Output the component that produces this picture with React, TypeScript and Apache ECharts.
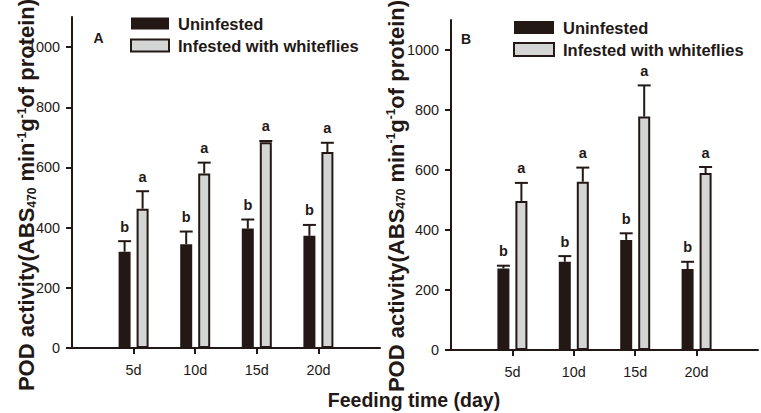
import React, { useEffect, useRef } from "react";
import * as echarts from "echarts";

const categories = ["5d", "10d", "15d", "20d"];
const axisCategories = ["", ...categories, ""];

const seriesNames = ["Uninfested", "Infested with whiteflies"];

// Panel A
const aUninfested = [320, 345, 397, 373];
const aUninfestedErr = [35, 42, 30, 36];
const aUninfestedSig = ["b", "b", "b", "b"];
const aInfested = [463, 580, 684, 651];
const aInfestedErr = [58, 36, 4, 31];
const aInfestedSig = ["a", "a", "a", "a"];

// Panel B
const bUninfested = [272, 294, 367, 270];
const bUninfestedErr = [9, 19, 22, 24];
const bUninfestedSig = ["b", "b", "b", "b"];
const bInfested = [497, 561, 778, 590];
const bInfestedErr = [60, 47, 104, 20];
const bInfestedSig = ["a", "a", "a", "a"];

const yTicks = [0, 200, 400, 600, 800, 1000];

const INK = "#231815";
const GRAY = "#d4d6d6";
const FONT = "'Liberation Sans', Arial, Helvetica, sans-serif";
const BAR_W = 12;
const OFFSET = 9;

function barData(vals: number[]) {
  return ["-", ...vals, "-"];
}

function errSeries(
  name: string,
  gridIdx: number,
  vals: number[],
  errs: number[],
  sig: string[],
  offset: number
) {
  return {
    type: "custom",
    name: name + "-err",
    xAxisIndex: gridIdx,
    yAxisIndex: gridIdx,
    z: 5,
    data: vals.map((v, i) => [i + 1, v, errs[i]]),
    encode: { x: 0, y: 1 },
    renderItem: (params: any, api: any) => {
      const i = api.value(0);
      const v = api.value(1);
      const e = api.value(2);
      const base = api.coord([i, v]);
      const top = api.coord([i, v + e]);
      const x = base[0] + offset;
      return {
        type: "group",
        children: [
          {
            type: "line",
            shape: { x1: x, y1: base[1], x2: x, y2: top[1] },
            style: { stroke: INK, lineWidth: 2 },
          },
          {
            type: "line",
            shape: { x1: x - 6.5, y1: top[1], x2: x + 6.5, y2: top[1] },
            style: { stroke: INK, lineWidth: 2 },
          },
          {
            type: "text",
            x: x,
            y: top[1] - 7,
            style: {
              text: sig[params.dataIndex],
              align: "center",
              verticalAlign: "bottom",
              fontFamily: FONT,
              fontWeight: "bold",
              fontSize: 14.5,
              fill: INK,
            },
          },
        ],
      };
    },
  };
}

function xAxis(gridIndex: number) {
  return {
    type: "category",
    gridIndex,
    data: axisCategories,
    boundaryGap: false,
    axisLine: { show: true, lineStyle: { color: INK, width: 2 } },
    axisTick: {
      show: true,
      interval: (idx: number) => idx > 0 && idx < axisCategories.length - 1,
      length: 6,
      lineStyle: { color: INK, width: 2 },
    },
    axisLabel: {
      interval: 0,
      fontSize: 14.4,
      fontFamily: FONT,
      color: INK,
      margin: 15,
    },
    splitLine: { show: false },
  };
}

function yAxis(gridIndex: number) {
  return {
    type: "value",
    gridIndex,
    min: 0,
    max: 1100,
    interval: 200,
    axisLine: { show: true, lineStyle: { color: INK, width: 2 } },
    axisTick: {
      show: true,
      length: 6,
      customValues: yTicks,
      lineStyle: { color: INK, width: 2 },
    },
    axisLabel: {
      customValues: yTicks,
      formatter: (v: number) => String(v),
      fontSize: 14.4,
      fontFamily: FONT,
      color: INK,
      margin: 12,
    },
    splitLine: { show: false },
  };
}

function yTitle(x: number, y: number) {
  return {
    type: "text",
    x,
    y,
    rotation: Math.PI / 2,
    style: {
      text: "{m|POD activity(ABS}{sub|470}{m| min}{sup|-1}{m|g}{sup|-1}{m|of protein)}",
      align: "center",
      verticalAlign: "middle",
      fill: INK,
      rich: {
        m: { fontSize: 22, fontWeight: "bold", fontFamily: FONT, fill: INK, lineHeight: 22 },
        sub: { fontSize: 12, fontWeight: "bold", fontFamily: FONT, fill: INK, verticalAlign: "bottom", lineHeight: 11 },
        sup: { fontSize: 12, fontWeight: "bold", fontFamily: FONT, fill: INK, verticalAlign: "top", lineHeight: 15 },
      },
    },
  };
}

function legend(left: number, top: number, w: number, h: number) {
  return {
    left,
    top,
    orient: "vertical",
    padding: 0,
    itemWidth: w,
    itemHeight: h,
    itemGap: 5,
    selectedMode: false,
    icon: "rect",
    data: [
      { name: seriesNames[0], itemStyle: { color: INK, borderWidth: 0 } },
      { name: seriesNames[1], itemStyle: { color: GRAY, borderColor: INK, borderWidth: 2 } },
    ],
    textStyle: {
      fontSize: 16.5,
      fontWeight: "bold",
      fontFamily: FONT,
      color: INK,
      lineHeight: 16,
      padding: [0, 0, 0, 4],
    },
  };
}

export default function App() {
  const ref = useRef<HTMLDivElement>(null);
  useEffect(() => {
    if (!ref.current) return;
    const chart = echarts.init(ref.current, null, { renderer: "svg" });
    const option: any = {
      animation: false,
      backgroundColor: "#ffffff",
      grid: [
        { left: 72, top: 17, width: 308, height: 331 },
        { left: 451, top: 20, width: 309, height: 330 },
      ],
      xAxis: [xAxis(0), xAxis(1)],
      yAxis: [yAxis(0), yAxis(1)],
      legend: [legend(130, 15, 38, 12), legend(513, 19, 40, 13)],
      series: [
        {
          type: "bar",
          name: seriesNames[0],
          xAxisIndex: 0,
          yAxisIndex: 0,
          barWidth: BAR_W,
          barGap: "50%",
          data: barData(aUninfested),
          itemStyle: { color: INK, borderWidth: 0 },
        },
        {
          type: "bar",
          name: seriesNames[1],
          xAxisIndex: 0,
          yAxisIndex: 0,
          barWidth: BAR_W,
          barGap: "50%",
          data: barData(aInfested),
          itemStyle: { color: GRAY, borderColor: INK, borderWidth: 2 },
        },
        {
          type: "bar",
          name: seriesNames[0],
          xAxisIndex: 1,
          yAxisIndex: 1,
          barWidth: BAR_W,
          barGap: "50%",
          data: barData(bUninfested),
          itemStyle: { color: INK, borderWidth: 0 },
        },
        {
          type: "bar",
          name: seriesNames[1],
          xAxisIndex: 1,
          yAxisIndex: 1,
          barWidth: BAR_W,
          barGap: "50%",
          data: barData(bInfested),
          itemStyle: { color: GRAY, borderColor: INK, borderWidth: 2 },
        },
        errSeries("A-uninfested", 0, aUninfested, aUninfestedErr, aUninfestedSig, -OFFSET),
        errSeries("A-infested", 0, aInfested, aInfestedErr, aInfestedSig, OFFSET),
        errSeries("B-uninfested", 1, bUninfested, bUninfestedErr, bUninfestedSig, -OFFSET),
        errSeries("B-infested", 1, bInfested, bInfestedErr, bInfestedSig, OFFSET),
      ],
      graphic: [
        yTitle(26.5, 195),
        yTitle(396, 196),
        {
          type: "text",
          x: 414,
          y: 400,
          style: {
            text: "Feeding time (day)",
            align: "center",
            verticalAlign: "middle",
            fontSize: 19.5,
            fontWeight: "bold",
            fontFamily: FONT,
            fill: INK,
          },
        },
        {
          type: "text",
          x: 98.5,
          y: 38,
          style: { text: "A", align: "center", verticalAlign: "middle", fontSize: 14, fontWeight: "bold", fontFamily: FONT, fill: INK },
        },
        {
          type: "text",
          x: 466,
          y: 39,
          style: { text: "B", align: "center", verticalAlign: "middle", fontSize: 14, fontWeight: "bold", fontFamily: FONT, fill: INK },
        },
      ],
    };
    chart.setOption(option);
    return () => chart.dispose();
  }, []);
  return (
    <div
      ref={ref}
      style={{ position: "fixed", left: 0, top: 0, width: 761, height: 413, background: "#fff" }}
    />
  );
}
